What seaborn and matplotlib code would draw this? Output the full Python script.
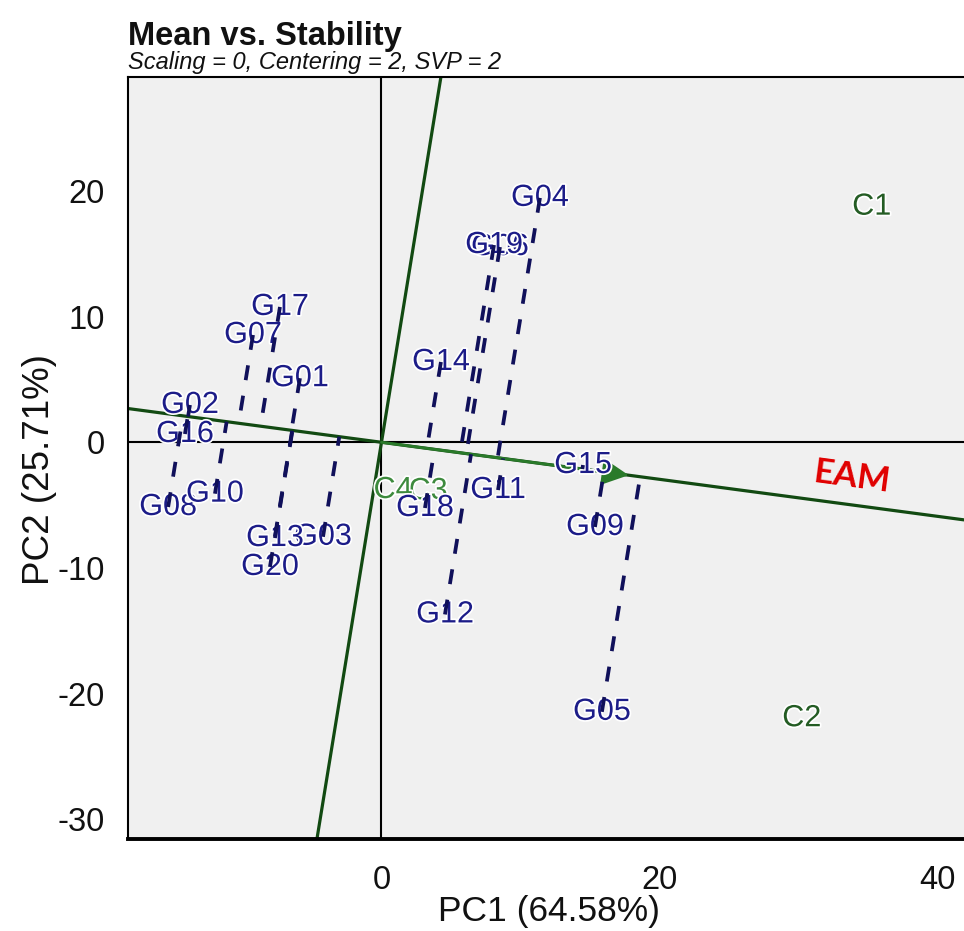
import numpy as np
import pandas as pd
import matplotlib
matplotlib.use("Agg")
import matplotlib.pyplot as plt
import matplotlib.patheffects as pe
import seaborn as sns

# ---------------- data ----------------
genotypes = ["G01", "G02", "G03", "G04", "G05", "G06", "G07", "G08", "G09", "G10",
             "G11", "G12", "G13", "G14", "G15", "G16", "G17", "G18", "G19", "G20"]
gen_pc1 = [-5.87, -13.79, -4.21, 11.41, 15.87, 8.53, -9.25, -15.36, 15.37, -11.99,
           8.39, 4.57, -7.67, 4.28, 14.51, -14.15, -7.31, 3.13, 8.10, -8.03]
gen_pc2 = [5.10, 2.97, -7.52, 19.45, -21.45, 15.54, 8.54, -5.15, -6.74, -4.09,
           -3.80, -13.70, -7.62, 6.39, -1.81, 0.66, 10.77, -5.23, 15.70, -9.92]

environments = ["C1", "C2", "C3", "C4"]
env_pc1 = [35.29, 30.25, 3.35, 0.83]
env_pc2 = [18.75, -21.96, -3.88, -3.80]

mean_env = [17.8, -2.62]
eam_label = "EAM"
eam_pos = [33.85, -2.75]

title = "Mean vs. Stability"
subtitle = "Scaling = 0, Centering = 2, SVP = 2"
xlabel = "PC1 (64.58%)"
ylabel = "PC2 (25.71%)"
xticks = [0, 20, 40]
yticks = [-30, -20, -10, 0, 10, 20]
xlim = (-18.25, 41.94)
ylim = (-31.57, 29.07)

# ---------------- style ----------------
sns.set_theme(style="white")
plt.rcParams["font.family"] = ["Liberation Sans", "DejaVu Sans"]
plt.rcParams["axes.unicode_minus"] = False

GEN_TXT = "#1c1c88"
GEN_LINE = "#10105a"
ENV_TXT = "#245c24"
AXIS_GREEN = "#124a12"

W, H = 964, 931
fig = plt.figure(figsize=(W / 100, H / 100), dpi=100)
ax = fig.add_axes([128 / W, 92 / H, 836 / W, 762 / H])
ax.set_facecolor("#f0f0f0")

# projections of genotypes on the average-environment axis
m = np.array(mean_env)
u = m / np.linalg.norm(m)
G = np.column_stack([gen_pc1, gen_pc2])
t = G @ u
feet = np.outer(t, u)

rows = []
for i, g in enumerate(genotypes):
    rows.append({"gen": g, "step": 0, "x": G[i, 0], "y": G[i, 1]})
    rows.append({"gen": g, "step": 1, "x": feet[i, 0], "y": feet[i, 1]})
seg = pd.DataFrame(rows)

# axes through origin
ax.axhline(0, color="black", lw=1.5, zorder=1)
ax.axvline(0, color="black", lw=1.5, zorder=1)

# AEC abscissa and ordinate
ax.axline((0, 0), (m[0], m[1]), color=AXIS_GREEN, lw=2.3, zorder=2)
ax.axline((0, 0), (-m[1], m[0]), color=AXIS_GREEN, lw=2.3, zorder=2)
ax.annotate("", xy=(m[0], m[1]), xytext=(0, 0),
            arrowprops=dict(arrowstyle="-|>,head_length=0.9,head_width=0.45",
                            color="#2a7a2a", lw=2.0, shrinkA=0, shrinkB=0,
                            mutation_scale=18),
            zorder=3)

halo = [pe.withStroke(linewidth=2.5, foreground="white")]

# genotype labels
for g, x, y in zip(genotypes, gen_pc1, gen_pc2):
    ax.text(x, y, g, color=GEN_TXT, fontsize=22, ha="center", va="center",
            zorder=4, path_effects=halo)

# environment labels
for e, x, y in zip(environments, env_pc1, env_pc2):
    col = ENV_TXT if e in ("C1", "C2") else "#3d8a3d"
    ax.text(x, y, e, color=col, fontsize=22, ha="center", va="center",
            zorder=3, path_effects=halo)

# dashed projection lines (seaborn)
sns.lineplot(data=seg, x="x", y="y", units="gen", estimator=None, sort=False,
             color=GEN_LINE, lw=2.7, ax=ax, zorder=5, legend=False)
for ln in ax.get_lines()[-len(genotypes):]:
    ln.set_dashes((4.0, 4.2))

# EAM label
ang = np.degrees(np.arctan2(-30.0, 224.0))
ax.text(eam_pos[0], eam_pos[1], eam_label, color="#e00000", fontsize=25,
        fontweight="bold", family=["Lato", "DejaVu Sans"], rotation=ang,
        rotation_mode="anchor", ha="center", va="center", zorder=4)

# axes cosmetics
ax.set_xlim(*xlim)
ax.set_ylim(*ylim)
ax.set_xticks(xticks)
ax.set_yticks(yticks)
ax.set_xticklabels([str(v) for v in xticks])
ax.set_yticklabels([str(v) for v in yticks])
ax.set_xlabel("")
ax.set_ylabel("")
ax.tick_params(axis="both", which="major", direction="out", length=10.5,
               width=1.4, color="black", labelsize=23.5, labelcolor="#111111")
ax.tick_params(axis="y", pad=6)
ax.tick_params(axis="x", pad=8)
ax.grid(False)
for side in ("left", "top"):
    ax.spines[side].set_visible(True)
    ax.spines[side].set_color("black")
    ax.spines[side].set_linewidth(1.5)
ax.spines["bottom"].set_visible(True)
ax.spines["bottom"].set_color("black")
ax.spines["bottom"].set_linewidth(2.8)
ax.spines["right"].set_visible(False)

fig.text(128 / W, 1 - 36 / H, title, fontsize=23.5, fontweight="bold",
         ha="left", va="center", color="#111111")
fig.text(128 / W, 1 - 62 / H, subtitle, fontsize=17, style="italic",
         ha="left", va="center", color="#111111")
fig.text(549 / W, 1 - 911 / H, xlabel, fontsize=25.5, ha="center", va="center",
         color="#111111")
fig.text(40 / W, 1 - 470 / H, ylabel, fontsize=26.5, rotation=90, ha="center",
         va="center", color="#111111")

fig.savefig("out.png", dpi=100, facecolor="white")
